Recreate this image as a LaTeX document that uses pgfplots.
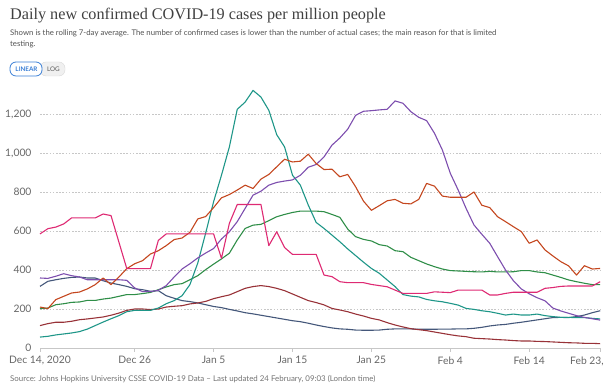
\documentclass[border=0pt]{standalone}
\usepackage{pgfplots}
\pgfplotsset{compat=1.18}
\usepackage{pgfplotstable}
\usepackage{fontspec}
\setmainfont{Lato}
\newfontfamily\titlefont{Liberation Serif}
\definecolor{cpink}{HTML}{DE2A73}
\definecolor{corange}{HTML}{C4471F}
\definecolor{cpurple}{HTML}{7D4EAE}
\definecolor{cteal}{HTML}{1E9688}
\definecolor{cgreen}{HTML}{2F8E48}
\definecolor{cmaroon}{HTML}{983238}
\definecolor{cslate}{HTML}{44577A}
\definecolor{txtgray}{HTML}{666666}
\definecolor{btnblue}{HTML}{3A7FD6}

\pgfplotstableread{
d P O U T G M S
0 585 210 359 56 202 115 316
1 612 202 357 60 205 125 342
2 620 248 368 67 222 132 350
3 636 265 381 72 227 132 357
4 667 282 371 77 234 137 362
5 667 287 364 84 236 145 364
6 667 303 350 97 244 149 359
7 667 325 350 115 244 154 359
8 687 359 350 133 251 159 345
9 679 325 350 150 256 168 333
10 543 364 350 166 265 179 325
11 407 407 347 186 274 193 316
12 407 432 308 193 274 200 304
13 407 448 289 193 279 200 299
14 407 482 289 193 285 197 291
15 552 499 296 205 299 200 294
16 585 525 320 227 313 210 268
17 585 556 364 243 325 214 255
18 585 564 405 268 330 217 243
19 585 593 432 325 350 226 238
20 585 662 462 436 371 231 231
21 585 674 487 590 402 239 222
22 585 720 510 750 430 253 213
23 460 770 559 886 457 263 207
24 639 787 596 1031 486 272 198
25 736 810 648 1224 554 289 190
26 736 835 716 1261 613 306 181
27 736 818 784 1321 630 315 175
28 736 866 804 1287 634 320 168
29 525 890 835 1219 653 315 161
30 596 929 849 1094 673 306 154
31 515 968 856 1031 685 294 147
32 480 954 862 886 695 277 140
33 480 958 886 835 702 260 135
34 480 994 927 733 702 243 127
35 480 946 941 644 702 233 118
36 374 915 980 613 699 221 110
37 366 917 1040 579 685 203 103
38 340 878 1077 545 670 195 98
39 335 890 1122 508 610 186 96
40 335 827 1193 474 571 174 92
41 335 753 1214 440 557 164 91
42 326 706 1217 408 549 152 91
43 320 730 1221 383 530 144 92
44 314 755 1224 349 523 130 96
45 297 762 1267 315 499 118 98
46 280 742 1255 274 494 108 98
47 280 739 1212 266 465 99 98
48 280 762 1183 262 448 94 96
49 280 844 1166 249 431 89 96
50 288 830 1101 242 417 82 96
51 286 779 1015 237 405 75 97
52 284 773 896 229 397 68 97
53 297 773 810 220 395 62 98
54 297 773 716 203 393 58 98
55 297 800 631 198 391 50 101
56 297 732 583 191 390 48 106
57 272 720 537 186 393 46 113
58 272 673 468 178 390 43 118
59 280 648 400 169 390 41 121
60 286 622 345 174 391 38 127
61 286 597 303 169 397 36 132
62 286 537 278 169 397 36 138
63 286 554 258 174 390 34 144
64 306 503 242 166 386 33 150
65 310 472 205 161 374 31 156
66 316 443 190 157 362 29 157
67 318 421 178 157 349 27 156
68 318 374 166 156 340 26 161
69 318 422 157 156 332 24 169
70 318 405 150 152 325 24 181
71 340 408 143 149 325 22 191
}\datatable

\begin{document}
\begin{tikzpicture}[x=1pt,y=1pt]
% titles
\node[anchor=base west,inner sep=0pt,text=black!75] at (10,367) {\titlefont\fontsize{16.2}{18}\selectfont Daily new confirmed COVID-19 cases per million people};
\node[anchor=base west,inner sep=0pt,text=black!68] at (10,351) {\fontsize{7.78}{9}\selectfont Shown is the rolling 7-day average. The number of confirmed cases is lower than the number of actual cases; the main reason for that is limited};
\node[anchor=base west,inner sep=0pt,text=black!68] at (10,340) {\fontsize{7.78}{9}\selectfont testing.};
% buttons
\fill[black!6,rounded corners=6pt] (40,311) rectangle (65,325);
\draw[black!15,rounded corners=6pt] (40,311) rectangle (65,325);
\draw[btnblue,fill=white,line width=0.8pt,rounded corners=6pt] (10,311) rectangle (42,325);
\node[text=btnblue,inner sep=0pt] at (26.5,318) {\fontsize{6.3}{7}\selectfont\bfseries LINEAR};
\node[text=black!65,inner sep=0pt] at (53.5,318) {\fontsize{6.3}{7}\selectfont LOG};
% source
\node[anchor=base west,inner sep=0pt,text=black!55] at (10,5) {\fontsize{7.9}{9}\selectfont Source: Johns Hopkins University CSSE COVID-19 Data -- Last updated 24 February, 09:03 (London time)};

\begin{axis}[
  at={(40pt,39pt)}, anchor=south west,
  scale only axis, width=560.2pt, height=259.35pt,
  xmin=0, xmax=71, ymin=0, ymax=1330,
  axis x line*=bottom, axis y line*=left,
  y axis line style={draw=none},
  x axis line style={draw=black!22, line width=0.9pt},
  xtick={0,12,22,32,42,52,62,71},
  xticklabels={{Dec 14, 2020},{Dec 26},{Jan 5},{Jan 15},{Jan 25},{Feb 4},{Feb 14},{\makebox[0pt][r]{Feb 23,\kern-3.5pt}}},
  ytick={0,200,400,600,800,1000,1200},
  yticklabel style={/pgf/number format/1000 sep={,}, /pgf/number format/assume math mode=true, font=\fontsize{10.3}{12}\selectfont, text=txtgray, xshift=-1pt},
  xticklabel style={font=\fontsize{10.3}{12}\selectfont, text=txtgray, yshift=-1pt},
  tick align=outside,
  xtick style={draw=black!22, line width=0.9pt},
  ytick style={draw=none},
  major tick length=4pt,
  ymajorgrids,
  major grid style={draw=black!22, line width=0.8pt, dash pattern=on 1.6pt off 1.6pt},
  clip=false,
  every axis plot/.append style={line width=1.1pt, mark=none, line join=round},
]
\addplot[cslate] table[x=d,y=S] {\datatable};
\addplot[cmaroon] table[x=d,y=M] {\datatable};
\addplot[cgreen] table[x=d,y=G] {\datatable};
\addplot[cteal] table[x=d,y=T] {\datatable};
\addplot[cpurple] table[x=d,y=U] {\datatable};
\addplot[corange] table[x=d,y=O] {\datatable};
\addplot[cpink] table[x=d,y=P] {\datatable};
\end{axis}
\pgfresetboundingbox
\useasboundingbox (0,0) rectangle (604,387);
\end{tikzpicture}
\end{document}
